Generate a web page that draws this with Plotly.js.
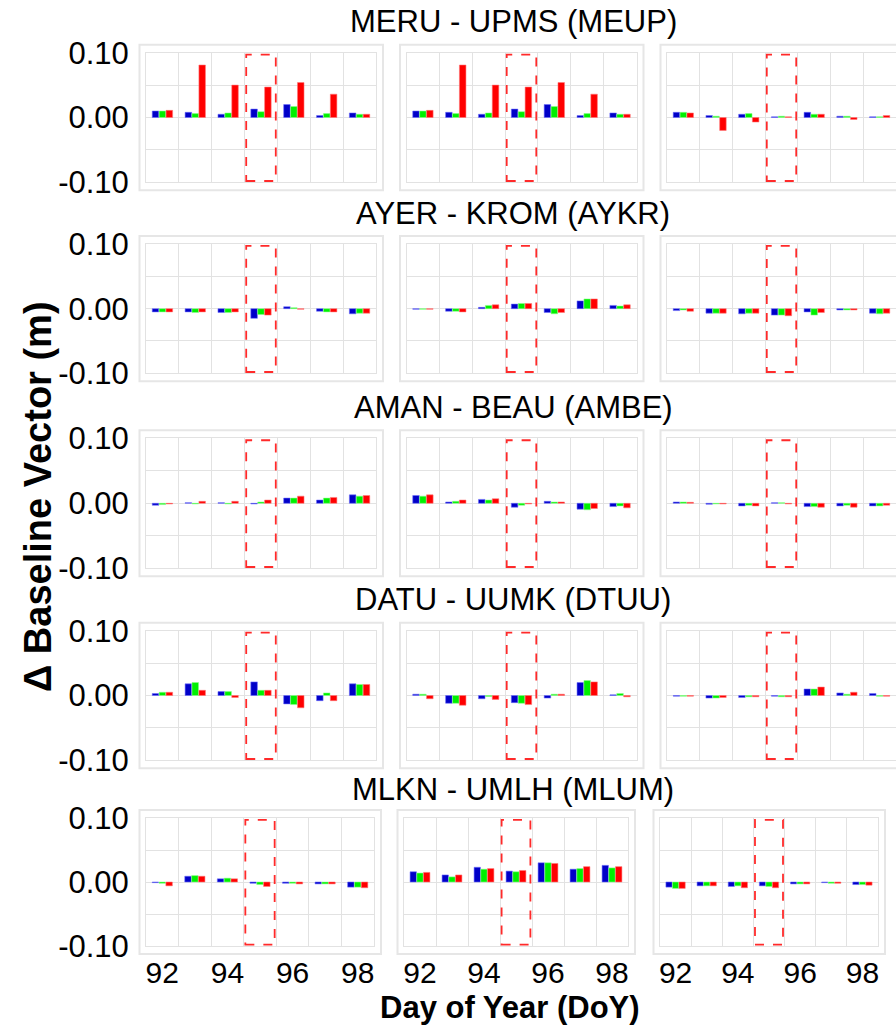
<!DOCTYPE html>
<html>
<head>
<meta charset="utf-8">
<script src="https://cdn.plot.ly/plotly-3.0.1.min.js"></script>
<style>html,body{margin:0;padding:0;background:#fff;}#chart{width:896px;height:1026px;}</style>
</head>
<body>
<div id="chart"></div>
<script>
// ---- data ----
const days = [92, 93, 94, 95, 96, 97, 98];
const xTickVals = [92, 94, 96, 98];
const yTickVals = [-0.1, -0.05, 0, 0.05, 0.1];
const yTickText = ['-0.10', '', '0.00', '', '0.10'];
const rowTitles = ['MERU - UPMS (MEUP)', 'AYER - KROM (AYKR)', 'AMAN - BEAU (AMBE)', 'DATU - UUMK (DTUU)', 'MLKN - UMLH (MLUM)'];
const highlightDay = 95;

// each array: [panel 1, panel 2, panel 3], 7 days each
const meupBlue  = [[0.010, 0.008, 0.005, 0.013, 0.020, 0.003, 0.007], [0.010, 0.008, 0.005, 0.013, 0.020, 0.003, 0.007], [0.008, 0.003, 0.005, 0.001, 0.008, 0.002, 0.001]];
const meupGreen = [[0.010, 0.006, 0.007, 0.009, 0.017, 0.006, 0.005], [0.010, 0.006, 0.007, 0.009, 0.017, 0.006, 0.005], [0.008, 0.002, 0.006, 0.002, 0.005, 0.002, 0.001]];
const meupRed   = [[0.011, 0.081, 0.050, 0.047, 0.054, 0.036, 0.005], [0.011, 0.081, 0.050, 0.047, 0.054, 0.036, 0.005], [0.007, -0.020, -0.007, 0.001, 0.005, -0.003, 0.003]];

const aykrBlue  = [[-0.005, -0.005, -0.006, -0.015, 0.003, -0.004, -0.008], [-0.001, -0.004, 0.002, 0.007, -0.006, 0.012, 0.005], [-0.003, -0.007, -0.008, -0.010, -0.005, -0.002, -0.007]];
const aykrGreen = [[-0.005, -0.006, -0.006, -0.009, 0.0015, -0.005, -0.007], [-0.001, -0.004, 0.005, 0.008, -0.008, 0.015, 0.004], [-0.002, -0.007, -0.007, -0.010, -0.010, -0.002, -0.008]];
const aykrRed   = [[-0.005, -0.005, -0.005, -0.010, -0.001, -0.005, -0.007], [-0.001, -0.005, 0.006, 0.008, -0.006, 0.015, 0.006], [-0.004, -0.007, -0.007, -0.011, -0.006, -0.002, -0.007]];

const ambeBlue  = [[-0.003, 0.001, 0.001, -0.001, 0.008, 0.005, 0.013], [0.012, 0.002, 0.006, -0.006, 0.003, -0.009, -0.005], [0.002, -0.0015, -0.004, 0.001, -0.005, -0.004, -0.004]];
const ambeGreen = [[-0.002, -0.001, -0.001, 0.002, 0.008, 0.008, 0.011], [0.011, 0.003, 0.005, -0.003, 0.002, -0.010, -0.004], [0.002, -0.001, -0.003, 0.001, -0.005, -0.003, -0.004]];
const ambeRed   = [[-0.001, 0.003, 0.003, 0.005, 0.011, 0.009, 0.012], [0.013, 0.005, 0.007, -0.001, 0.002, -0.008, -0.007], [0.0015, -0.001, -0.004, -0.001, -0.006, -0.006, -0.003]];

const dtuuBlue  = [[0.003, 0.018, 0.006, 0.021, -0.013, -0.008, 0.018], [0.002, -0.012, -0.005, -0.011, -0.004, 0.020, 0.001], [-0.001, -0.004, -0.003, -0.001, 0.010, 0.004, 0.003]];
const dtuuGreen = [[0.005, 0.020, 0.006, 0.008, -0.014, 0.004, 0.017], [0.002, -0.012, -0.0015, -0.012, 0.002, 0.023, 0.003], [-0.001, -0.004, -0.002, -0.002, 0.010, 0.002, -0.001]];
const dtuuRed   = [[0.005, 0.008, -0.003, 0.008, -0.019, -0.008, 0.017], [-0.005, -0.015, -0.006, -0.014, 0.002, 0.021, -0.002], [-0.001, -0.003, -0.002, -0.002, 0.013, 0.005, -0.001]];

const mlumBlue  = [[-0.001, 0.009, 0.005, -0.002, -0.002, -0.003, -0.008], [0.016, 0.011, 0.023, 0.017, 0.030, 0.020, 0.026], [-0.008, -0.006, -0.007, -0.006, -0.003, -0.001, -0.004]];
const mlumGreen = [[-0.002, 0.010, 0.006, -0.004, -0.002, -0.003, -0.008], [0.014, 0.008, 0.020, 0.016, 0.030, 0.021, 0.022], [-0.010, -0.006, -0.006, -0.007, -0.003, -0.002, -0.004]];
const mlumRed   = [[-0.006, 0.009, 0.005, -0.007, -0.003, -0.003, -0.009], [0.015, 0.011, 0.021, 0.018, 0.029, 0.024, 0.024], [-0.010, -0.006, -0.009, -0.009, -0.003, -0.002, -0.005]];

const blueSeries  = [meupBlue, aykrBlue, ambeBlue, dtuuBlue, mlumBlue];
const greenSeries = [meupGreen, aykrGreen, ambeGreen, dtuuGreen, mlumGreen];
const redSeries   = [meupRed, aykrRed, ambeRed, dtuuRed, mlumRed];

// ---- layout geometry (pixels) ----
const W = 896, H = 1026;
const colLTop = [146, 406.5, 667], colRTop = [376, 636.5, 896];
const colLBot = [146, 404, 660], colRBot = [374, 628, 878];
const rowT = [52.7, 244, 438.3, 630.7, 818], rowB = [182.3, 373.3, 568.3, 760.3, 946];
const FONT = 'Liberation Sans, Arial, sans-serif';
const GRID = '#e2e2e2';
const colors = {blue: '#0000c8', green: '#00f000', red: '#ff0000'};
const outline = {blue: 'rgba(110,110,255,0.7)', green: 'rgba(140,255,140,0.7)', red: 'rgba(255,120,120,0.7)'};

const traces = [];
const layout = {
  width: W, height: H,
  margin: {l: 0, r: 0, t: 0, b: 0},
  paper_bgcolor: '#fff', plot_bgcolor: '#fff',
  barmode: 'group', bargap: 0.37, bargroupgap: 0.05,
  showlegend: false,
  font: {family: FONT, color: '#000'},
  shapes: [], annotations: []
};

for (let r = 0; r < 5; r++) {
  const colL = r === 4 ? colLBot : colLTop;
  const colR = r === 4 ? colRBot : colRTop;
  for (let c = 0; c < 3; c++) {
    const k = r * 3 + c + 1;
    const xs = k === 1 ? 'x' : 'x' + k;
    const ys = k === 1 ? 'y' : 'y' + k;
    const series = [['blue', blueSeries[r][c]], ['green', greenSeries[r][c]], ['red', redSeries[r][c]]];
    series.forEach(([name, vals]) => {
      traces.push({
        type: 'bar', x: days, y: vals, xaxis: xs, yaxis: ys, name: name,
        marker: {color: colors[name], line: {color: outline[name], width: 0.8}},
        hoverinfo: 'x+y'
      });
    });
    layout[k === 1 ? 'xaxis' : 'xaxis' + k] = {
      domain: [colL[c] / W, colR[c] / W], anchor: ys,
      range: [91.5, 98.5], fixedrange: true,
      tickmode: 'array', tickvals: xTickVals,
      showticklabels: r === 4, showgrid: false, zeroline: false,
      ticks: '',
      tickfont: {size: 30, family: FONT, color: '#000'},
      minor: {tickmode: 'array', tickvals: [92.5, 93.5, 94.5, 95.5, 96.5, 97.5], showgrid: true, gridcolor: GRID, gridwidth: 1, ticks: ''},
      showline: true, mirror: true, linecolor: GRID, linewidth: 1
    };
    layout[k === 1 ? 'yaxis' : 'yaxis' + k] = {
      domain: [1 - rowB[r] / H, 1 - rowT[r] / H], anchor: xs,
      range: [-0.1, 0.1], fixedrange: true,
      tickmode: 'array', tickvals: yTickVals, ticktext: yTickText,
      showticklabels: c === 0, showgrid: true, gridcolor: GRID, gridwidth: 1,
      zeroline: true, zerolinecolor: GRID, zerolinewidth: 1,
      ticks: c === 0 ? 'outside' : '', ticklen: 10, tickcolor: 'rgba(0,0,0,0)',
      tickfont: {size: 31, family: FONT, color: '#000'},
      showline: true, mirror: true, linecolor: GRID, linewidth: 1
    };
    // outer panel frame
    layout.shapes.push({
      type: 'rect', xref: 'paper', yref: 'paper', layer: 'below',
      x0: (colL[c] - 6.5) / W, x1: (colR[c] + 7) / W,
      y0: 1 - (rowB[r] + 8) / H, y1: 1 - (rowT[r] - 8) / H,
      line: {color: '#e6e6e6', width: 2}, fillcolor: 'rgba(0,0,0,0)'
    });
    // highlighted day box
    layout.shapes.push({
      type: 'rect', xref: xs, yref: ys, layer: 'above',
      x0: highlightDay - 0.45, x1: highlightDay + 0.45, y0: -0.098, y1: 0.097,
      line: {color: '#ff2a2a', width: 1.8, dash: 'dash'}, fillcolor: 'rgba(0,0,0,0)'
    });
  }
  layout.annotations.push({
    text: rowTitles[r], xref: 'paper', yref: 'paper', showarrow: false,
    x: 513 / W, y: 1 - (r === 4 ? 789 : rowT[r] - 31) / H, xanchor: 'center', yanchor: 'middle',
    font: {size: 31, family: FONT, color: '#000'}
  });
}

layout.annotations.push({
  text: '<b>Δ Baseline Vector (m)</b>', xref: 'paper', yref: 'paper', showarrow: false,
  x: 38 / W, y: 1 - 497 / H, xanchor: 'center', yanchor: 'middle', textangle: -90,
  font: {size: 38, family: FONT, color: '#000'}
});
layout.annotations.push({
  text: '<b>Day of Year (DoY)</b>', xref: 'paper', yref: 'paper', showarrow: false,
  x: 510 / W, y: 1 - 1007 / H, xanchor: 'center', yanchor: 'middle',
  font: {size: 31, family: FONT, color: '#000'}
});

Plotly.newPlot('chart', traces, layout, {displayModeBar: false, staticPlot: true});
</script>
</body>
</html>
